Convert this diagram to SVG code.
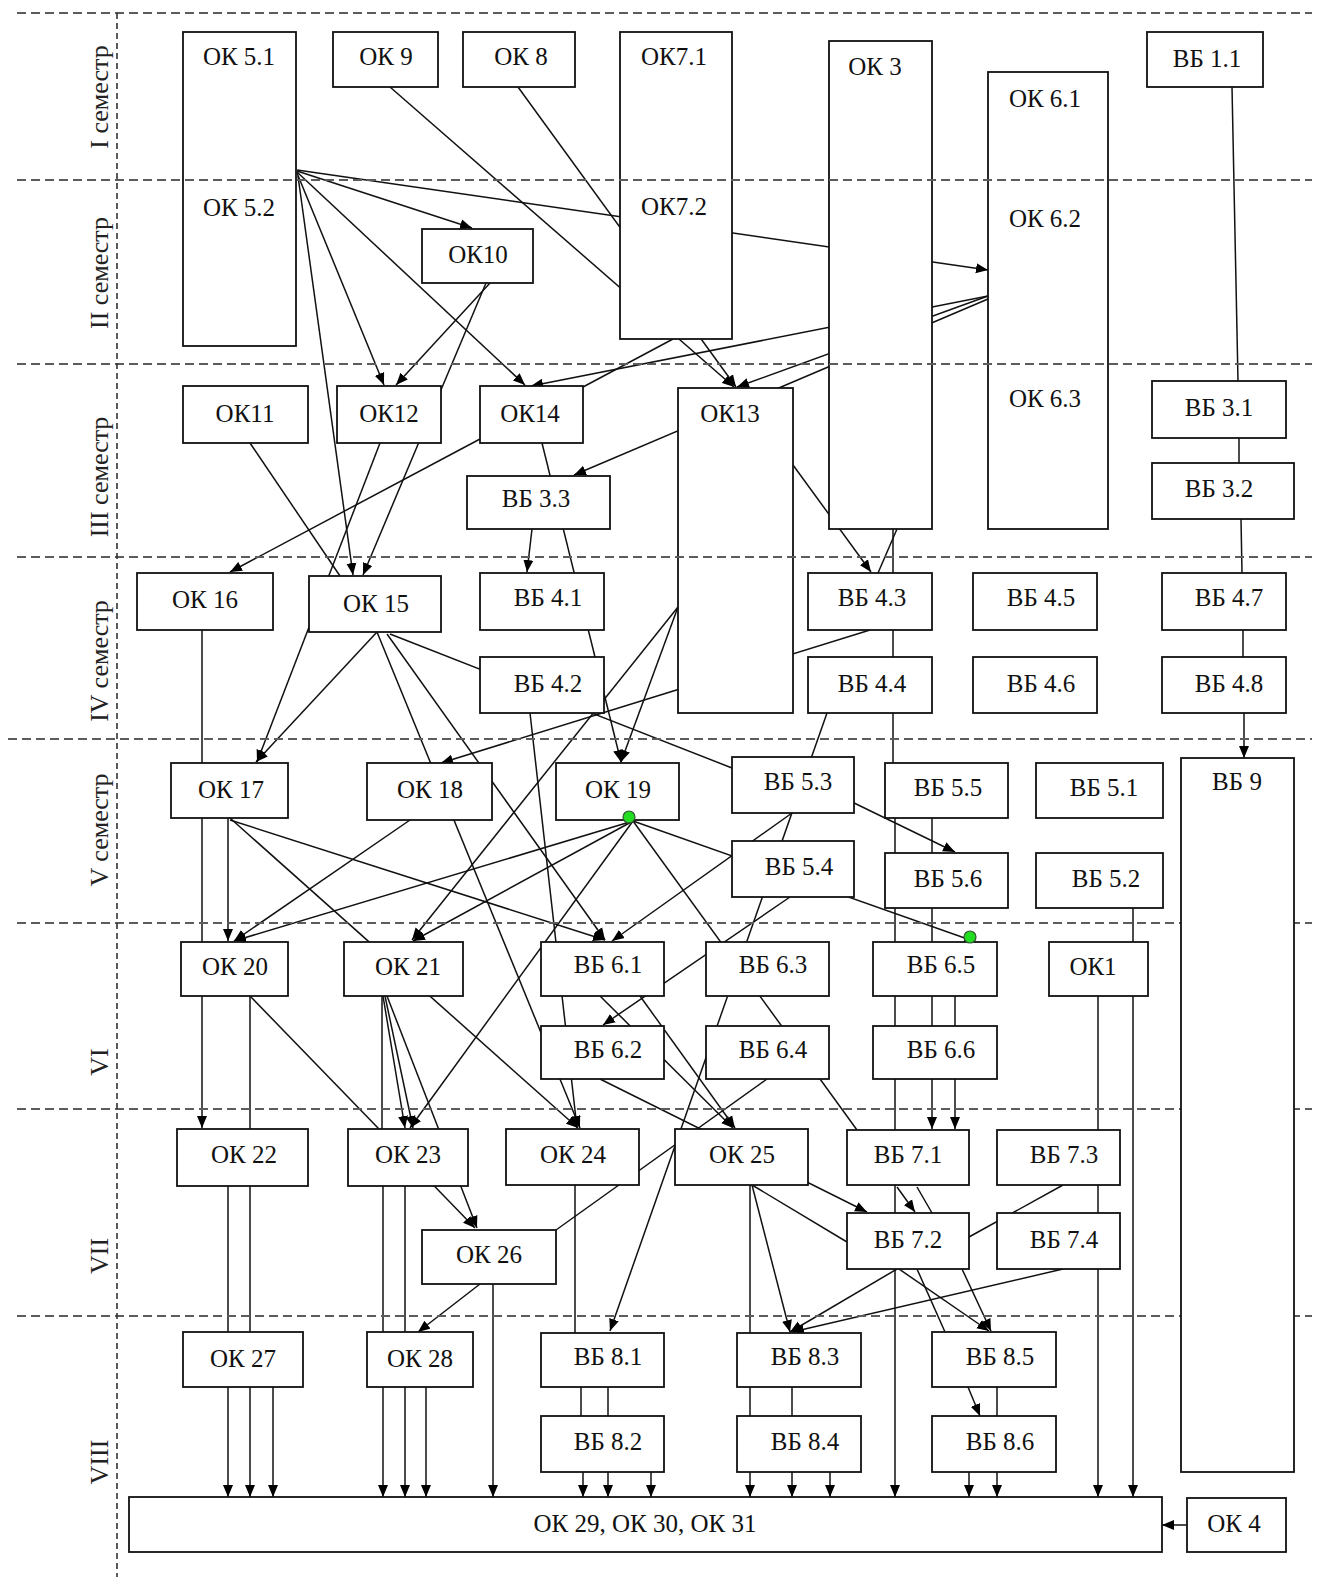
<svg xmlns="http://www.w3.org/2000/svg" width="1322" height="1577" viewBox="0 0 1322 1577">
<style>
.n rect{fill:#fff;stroke:#111;stroke-width:1.8}
.n text{font-family:"Liberation Serif","Times New Roman",serif;font-size:25px;text-anchor:middle;fill:#111}
#links line{stroke:#111;stroke-width:1.5;fill:none}
#links line.a{marker-end:url(#arr)}
.h{stroke:#5c5c5c;stroke-width:2.2;stroke-dasharray:9 5}
.v{stroke:#333;stroke-width:1.6;stroke-dasharray:6 4}
.sem text{font-family:"Liberation Serif","Times New Roman",serif;font-size:26px;text-anchor:middle;fill:#222}
.dot{fill:#22dd22;stroke:#335533;stroke-width:1.2}
</style>
<defs>
<marker id="arr" markerWidth="13" markerHeight="11" refX="12" refY="5.5" orient="auto" markerUnits="userSpaceOnUse"><path d="M0,0.5 L12,5.5 L0,10.5 z" fill="#000"/></marker>
</defs>
<rect width="1322" height="1577" fill="#fff"/>

<g id="links">
<!-- semesters I-II -->
<line class="a" x1="297" y1="170" x2="988" y2="270"/>
<line class="a" x1="297" y1="171" x2="472" y2="228"/>
<line class="a" x1="297" y1="173" x2="384" y2="385"/>
<line class="a" x1="297" y1="172" x2="525" y2="385"/>
<line class="a" x1="298" y1="176" x2="353" y2="575"/>
<line class="a" x1="390" y1="87" x2="734" y2="387"/>
<line class="a" x1="518" y1="87" x2="736" y2="387"/>
<line x1="673" y1="339" x2="583" y2="387"/>
<line class="a" x1="988" y1="296" x2="531" y2="386"/>
<line class="a" x1="988" y1="296" x2="737" y2="387"/>
<line class="a" x1="988" y1="299" x2="574" y2="475"/>
<line x1="1232" y1="87" x2="1238" y2="381"/>
<line x1="1239" y1="438" x2="1239" y2="463"/>
<line x1="1241" y1="519" x2="1242" y2="573"/>
<line x1="1243" y1="630" x2="1243" y2="657"/>
<line class="a" x1="1244" y1="713" x2="1244" y2="758"/>
<!-- semesters III-IV -->
<line class="a" x1="490" y1="283" x2="396" y2="385"/>
<line class="a" x1="486" y1="283" x2="363" y2="575"/>
<line class="a" x1="380" y1="443" x2="257" y2="762"/>
<line x1="250" y1="443" x2="340" y2="576"/>
<line class="a" x1="480" y1="439" x2="230" y2="572"/>
<line class="a" x1="542" y1="443" x2="621" y2="762"/>
<line class="a" x1="532" y1="529" x2="527" y2="572"/>
<line class="a" x1="793" y1="465" x2="871" y2="572"/>
<line x1="893" y1="529" x2="893" y2="573"/>
<line x1="897" y1="529" x2="878" y2="573"/>
<line class="a" x1="870" y1="630" x2="441" y2="763"/>
<line x1="893" y1="630" x2="893" y2="657"/>
<line x1="893" y1="713" x2="893" y2="763"/>
<line class="a" x1="827" y1="713" x2="610" y2="1331"/>
<line class="a" x1="678" y1="607" x2="621" y2="762"/>
<line class="a" x1="678" y1="607" x2="412" y2="940"/>
<line class="a" x1="377" y1="632" x2="256" y2="762"/>
<line class="a" x1="377" y1="632" x2="580" y2="1128"/>
<line class="a" x1="387" y1="634" x2="605" y2="940"/>
<line x1="390" y1="634" x2="732" y2="768"/>
<line x1="202" y1="630" x2="202" y2="763"/>
<!-- semester V -->
<line x1="202" y1="818" x2="202" y2="942"/>
<line class="a" x1="228" y1="818" x2="228" y2="941"/>
<line class="a" x1="230" y1="820" x2="605" y2="940"/>
<line class="a" x1="230" y1="818" x2="578" y2="1128"/>
<line class="a" x1="410" y1="820" x2="234" y2="941"/>
<line class="a" x1="530" y1="713" x2="577" y2="1128"/>
<line class="a" x1="633" y1="821" x2="234" y2="941"/>
<line class="a" x1="633" y1="821" x2="413" y2="941"/>
<line class="a" x1="633" y1="821" x2="410" y2="1128"/>
<line x1="633" y1="821" x2="857" y2="1130"/>
<line class="a" x1="633" y1="821" x2="976" y2="942"/>
<line class="a" x1="850" y1="801" x2="955" y2="852"/>
<line class="a" x1="792" y1="813" x2="612" y2="941"/>
<line class="a" x1="790" y1="897" x2="603" y2="1025"/>
<line x1="895" y1="818" x2="895" y2="853"/>
<line x1="932" y1="818" x2="932" y2="853"/>
<line x1="895" y1="908" x2="895" y2="942"/>
<line x1="932" y1="908" x2="932" y2="942"/>
<line class="a" x1="1133" y1="908" x2="1133" y2="1497"/>
<!-- semester VI -->
<line class="a" x1="600" y1="996" x2="733" y2="1128"/>
<line class="a" x1="640" y1="996" x2="735" y2="1128"/>
<line class="a" x1="600" y1="1079" x2="867" y2="1212"/>
<line x1="767" y1="1079" x2="556" y2="1230"/>
<line x1="895" y1="996" x2="895" y2="1026"/>
<line x1="932" y1="996" x2="932" y2="1026"/>
<line x1="955" y1="996" x2="955" y2="1026"/>
<line x1="895" y1="1079" x2="895" y2="1130"/>
<line class="a" x1="932" y1="1079" x2="932" y2="1129"/>
<line class="a" x1="955" y1="1079" x2="955" y2="1129"/>
<line class="a" x1="1098" y1="996" x2="1098" y2="1497"/>
<line class="a" x1="202" y1="996" x2="202" y2="1128"/>
<line x1="250" y1="996" x2="250" y2="1129"/>
<line class="a" x1="250" y1="996" x2="475" y2="1228"/>
<line x1="382" y1="996" x2="382" y2="1129"/>
<line class="a" x1="383" y1="996" x2="405" y2="1128"/>
<line class="a" x1="385" y1="996" x2="413" y2="1128"/>
<line class="a" x1="387" y1="996" x2="477" y2="1228"/>
<!-- semester VII -->
<line x1="895" y1="1185" x2="895" y2="1213"/>
<line class="a" x1="897" y1="1187" x2="915" y2="1212"/>
<line x1="917" y1="1187" x2="932" y2="1213"/>
<line class="a" x1="895" y1="1269" x2="895" y2="1497"/>
<line class="a" x1="899" y1="1269" x2="989" y2="1331"/>
<line class="a" x1="962" y1="1269" x2="991" y2="1331"/>
<line x1="917" y1="1269" x2="945" y2="1332"/>
<line class="a" x1="897" y1="1269" x2="790" y2="1332"/>
<line class="a" x1="1063" y1="1269" x2="792" y2="1332"/>
<line x1="1063" y1="1185" x2="969" y2="1237"/>
<line class="a" x1="752" y1="1185" x2="790" y2="1332"/>
<line x1="750" y1="1185" x2="750" y2="1333"/>
<line x1="752" y1="1185" x2="847" y2="1242"/>
<line x1="575" y1="1185" x2="575" y2="1333"/>
<line x1="228" y1="1186" x2="228" y2="1332"/>
<line x1="250" y1="1186" x2="250" y2="1332"/>
<line x1="383" y1="1186" x2="383" y2="1332"/>
<line x1="405" y1="1186" x2="405" y2="1332"/>
<line class="a" x1="480" y1="1284" x2="418" y2="1332"/>
<line class="a" x1="493" y1="1284" x2="493" y2="1497"/>
<!-- semester VIII -->
<line x1="581" y1="1387" x2="581" y2="1416"/>
<line x1="608" y1="1387" x2="608" y2="1416"/>
<line class="a" x1="583" y1="1472" x2="583" y2="1497"/>
<line class="a" x1="608" y1="1472" x2="608" y2="1497"/>
<line class="a" x1="651" y1="1472" x2="651" y2="1497"/>
<line x1="750" y1="1387" x2="750" y2="1416"/>
<line x1="792" y1="1387" x2="792" y2="1416"/>
<line class="a" x1="750" y1="1472" x2="750" y2="1497"/>
<line class="a" x1="792" y1="1472" x2="792" y2="1497"/>
<line class="a" x1="830" y1="1465" x2="830" y2="1497"/>
<line class="a" x1="968" y1="1387" x2="980" y2="1416"/>
<line x1="997" y1="1387" x2="997" y2="1416"/>
<line class="a" x1="969" y1="1472" x2="969" y2="1497"/>
<line class="a" x1="997" y1="1472" x2="997" y2="1497"/>
<line class="a" x1="228" y1="1387" x2="228" y2="1497"/>
<line class="a" x1="250" y1="1387" x2="250" y2="1497"/>
<line class="a" x1="273" y1="1387" x2="273" y2="1497"/>
<line class="a" x1="383" y1="1387" x2="383" y2="1497"/>
<line class="a" x1="405" y1="1387" x2="405" y2="1497"/>
<line class="a" x1="426" y1="1387" x2="426" y2="1497"/>
<line class="a" x1="1187" y1="1525" x2="1162" y2="1525"/>
</g>

<g id="nodes" class="n">
<g id="ok5"><rect x="183" y="32" width="113" height="314"/><text x="239" y="65">ОК 5.1</text><text x="239" y="216">ОК 5.2</text></g>
<g id="ok9"><rect x="333" y="32" width="105" height="55"/><text x="386" y="65">ОК 9</text></g>
<g id="ok8"><rect x="463" y="32" width="112" height="55"/><text x="521" y="65">ОК 8</text></g>
<g id="ok7"><rect x="620" y="32" width="112" height="307"/><text x="674" y="65">ОК7.1</text><text x="674" y="215">ОК7.2</text></g>
<g id="ok3"><rect x="829" y="41" width="103" height="488"/><text x="875" y="75">ОК 3</text></g>
<g id="ok6"><rect x="988" y="72" width="120" height="457"/><text x="1045" y="107">ОК 6.1</text><text x="1045" y="227">ОК 6.2</text><text x="1045" y="407">ОК 6.3</text></g>
<g id="vb1-1"><rect x="1147" y="32" width="116" height="55"/><text x="1207" y="67">ВБ 1.1</text></g>
<g id="ok10"><rect x="422" y="229" width="111" height="54"/><text x="478" y="263">ОК10</text></g>
<g id="ok11"><rect x="183" y="386" width="125" height="57"/><text x="245" y="422">ОК11</text></g>
<g id="ok12"><rect x="337" y="386" width="104" height="57"/><text x="389" y="422">ОК12</text></g>
<g id="ok14"><rect x="480" y="386" width="103" height="57"/><text x="530" y="422">ОК14</text></g>
<g id="ok13"><rect x="678" y="388" width="115" height="325"/><text x="730" y="422">ОК13</text></g>
<g id="vb3-1"><rect x="1152" y="381" width="134" height="57"/><text x="1219" y="416">ВБ 3.1</text></g>
<g id="vb3-3"><rect x="467" y="476" width="143" height="53"/><text x="536" y="507">ВБ 3.3</text></g>
<g id="vb3-2"><rect x="1152" y="463" width="142" height="56"/><text x="1219" y="497">ВБ 3.2</text></g>
<g id="ok16"><rect x="137" y="573" width="136" height="57"/><text x="205" y="608">ОК 16</text></g>
<g id="ok15"><rect x="309" y="576" width="132" height="56"/><text x="376" y="612">ОК 15</text></g>
<g id="vb4-1"><rect x="480" y="573" width="124" height="57"/><text x="548" y="606">ВБ 4.1</text></g>
<g id="vb4-2"><rect x="480" y="657" width="124" height="56"/><text x="548" y="692">ВБ 4.2</text></g>
<g id="vb4-3"><rect x="808" y="573" width="124" height="57"/><text x="872" y="606">ВБ 4.3</text></g>
<g id="vb4-4"><rect x="808" y="657" width="124" height="56"/><text x="872" y="692">ВБ 4.4</text></g>
<g id="vb4-5"><rect x="973" y="573" width="124" height="57"/><text x="1041" y="606">ВБ 4.5</text></g>
<g id="vb4-6"><rect x="973" y="657" width="124" height="56"/><text x="1041" y="692">ВБ 4.6</text></g>
<g id="vb4-7"><rect x="1162" y="573" width="124" height="57"/><text x="1229" y="606">ВБ 4.7</text></g>
<g id="vb4-8"><rect x="1162" y="657" width="124" height="56"/><text x="1229" y="692">ВБ 4.8</text></g>
<g id="ok17"><rect x="171" y="763" width="117" height="55"/><text x="231" y="798">ОК 17</text></g>
<g id="ok18"><rect x="367" y="763" width="125" height="57"/><text x="430" y="798">ОК 18</text></g>
<g id="ok19"><rect x="556" y="763" width="123" height="57"/><text x="618" y="798">ОК 19</text></g>
<g id="vb5-3"><rect x="732" y="757" width="122" height="56"/><text x="798" y="790">ВБ 5.3</text></g>
<g id="vb5-5"><rect x="885" y="763" width="123" height="55"/><text x="948" y="796">ВБ 5.5</text></g>
<g id="vb5-1"><rect x="1036" y="763" width="127" height="55"/><text x="1104" y="796">ВБ 5.1</text></g>
<g id="vb5-4"><rect x="732" y="841" width="122" height="56"/><text x="799" y="875">ВБ 5.4</text></g>
<g id="vb5-6"><rect x="885" y="853" width="123" height="55"/><text x="948" y="887">ВБ 5.6</text></g>
<g id="vb5-2"><rect x="1036" y="853" width="127" height="55"/><text x="1106" y="887">ВБ 5.2</text></g>
<g id="ok20"><rect x="181" y="942" width="107" height="54"/><text x="235" y="975">ОК 20</text></g>
<g id="ok21"><rect x="344" y="942" width="119" height="54"/><text x="408" y="975">ОК 21</text></g>
<g id="vb6-1"><rect x="541" y="942" width="123" height="54"/><text x="608" y="973">ВБ 6.1</text></g>
<g id="vb6-3"><rect x="706" y="942" width="123" height="54"/><text x="773" y="973">ВБ 6.3</text></g>
<g id="vb6-5"><rect x="873" y="942" width="124" height="54"/><text x="941" y="973">ВБ 6.5</text></g>
<g id="ok1"><rect x="1049" y="942" width="99" height="54"/><text x="1093" y="975">ОК1</text></g>
<g id="vb6-2"><rect x="541" y="1026" width="123" height="53"/><text x="608" y="1058">ВБ 6.2</text></g>
<g id="vb6-4"><rect x="706" y="1026" width="123" height="53"/><text x="773" y="1058">ВБ 6.4</text></g>
<g id="vb6-6"><rect x="873" y="1026" width="124" height="53"/><text x="941" y="1058">ВБ 6.6</text></g>
<g id="ok22"><rect x="177" y="1129" width="131" height="57"/><text x="244" y="1163">ОК 22</text></g>
<g id="ok23"><rect x="348" y="1129" width="120" height="57"/><text x="408" y="1163">ОК 23</text></g>
<g id="ok24"><rect x="506" y="1129" width="133" height="56"/><text x="573" y="1163">ОК 24</text></g>
<g id="ok25"><rect x="675" y="1129" width="133" height="56"/><text x="742" y="1163">ОК 25</text></g>
<g id="vb7-1"><rect x="847" y="1130" width="122" height="55"/><text x="908" y="1163">ВБ 7.1</text></g>
<g id="vb7-3"><rect x="997" y="1130" width="123" height="55"/><text x="1064" y="1163">ВБ 7.3</text></g>
<g id="ok26"><rect x="422" y="1230" width="134" height="54"/><text x="489" y="1263">ОК 26</text></g>
<g id="vb7-2"><rect x="847" y="1213" width="122" height="56"/><text x="908" y="1248">ВБ 7.2</text></g>
<g id="vb7-4"><rect x="997" y="1213" width="123" height="56"/><text x="1064" y="1248">ВБ 7.4</text></g>
<g id="ok27"><rect x="183" y="1332" width="120" height="55"/><text x="243" y="1367">ОК 27</text></g>
<g id="ok28"><rect x="367" y="1332" width="106" height="55"/><text x="420" y="1367">ОК 28</text></g>
<g id="vb8-1"><rect x="541" y="1333" width="123" height="54"/><text x="608" y="1365">ВБ 8.1</text></g>
<g id="vb8-3"><rect x="737" y="1333" width="124" height="54"/><text x="805" y="1365">ВБ 8.3</text></g>
<g id="vb8-5"><rect x="932" y="1332" width="124" height="55"/><text x="1000" y="1365">ВБ 8.5</text></g>
<g id="vb8-2"><rect x="541" y="1416" width="123" height="56"/><text x="608" y="1450">ВБ 8.2</text></g>
<g id="vb8-4"><rect x="737" y="1416" width="124" height="56"/><text x="805" y="1450">ВБ 8.4</text></g>
<g id="vb8-6"><rect x="932" y="1416" width="124" height="56"/><text x="1000" y="1450">ВБ 8.6</text></g>
<g id="ok29-31"><rect x="129" y="1497" width="1033" height="55"/><text x="645" y="1532">ОК 29, ОК 30, ОК 31</text></g>
<g id="ok4"><rect x="1187" y="1498" width="99" height="54"/><text x="1234" y="1532">ОК 4</text></g>
</g>

<!-- semester grid -->
<g id="grid">
<line class="h" x1="17" y1="13" x2="1312" y2="13"/>
<line class="h" x1="17" y1="180" x2="1312" y2="180"/>
<line class="h" x1="17" y1="364" x2="1312" y2="364"/>
<line class="h" x1="17" y1="557" x2="1312" y2="557"/>
<line class="h" x1="8" y1="739" x2="1312" y2="739"/>
<line class="h" x1="17" y1="923" x2="1312" y2="923"/>
<line class="h" x1="17" y1="1109" x2="1312" y2="1109"/>
<line class="h" x1="17" y1="1316" x2="1312" y2="1316"/>
<line class="v" x1="117" y1="13" x2="117" y2="1577"/>
</g>

<g id="vb9" class="n"><rect x="1181" y="758" width="113" height="714"/><text x="1237" y="790">ВБ 9</text></g>

<g class="sem">
<text transform="translate(108,97) rotate(-90)">I семестр</text>
<text transform="translate(108,273) rotate(-90)">II семестр</text>
<text transform="translate(108,477) rotate(-90)">III семестр</text>
<text transform="translate(108,661) rotate(-90)">IV семестр</text>
<text transform="translate(108,830) rotate(-90)">V семестр</text>
<text transform="translate(108,1062) rotate(-90)">VI</text>
<text transform="translate(108,1256) rotate(-90)">VII</text>
<text transform="translate(108,1462) rotate(-90)">VIII</text>
</g>

<g id="handles">
<circle class="dot" cx="629" cy="817" r="6"/>
<circle class="dot" cx="970" cy="937" r="6"/>
</g>
</svg>
